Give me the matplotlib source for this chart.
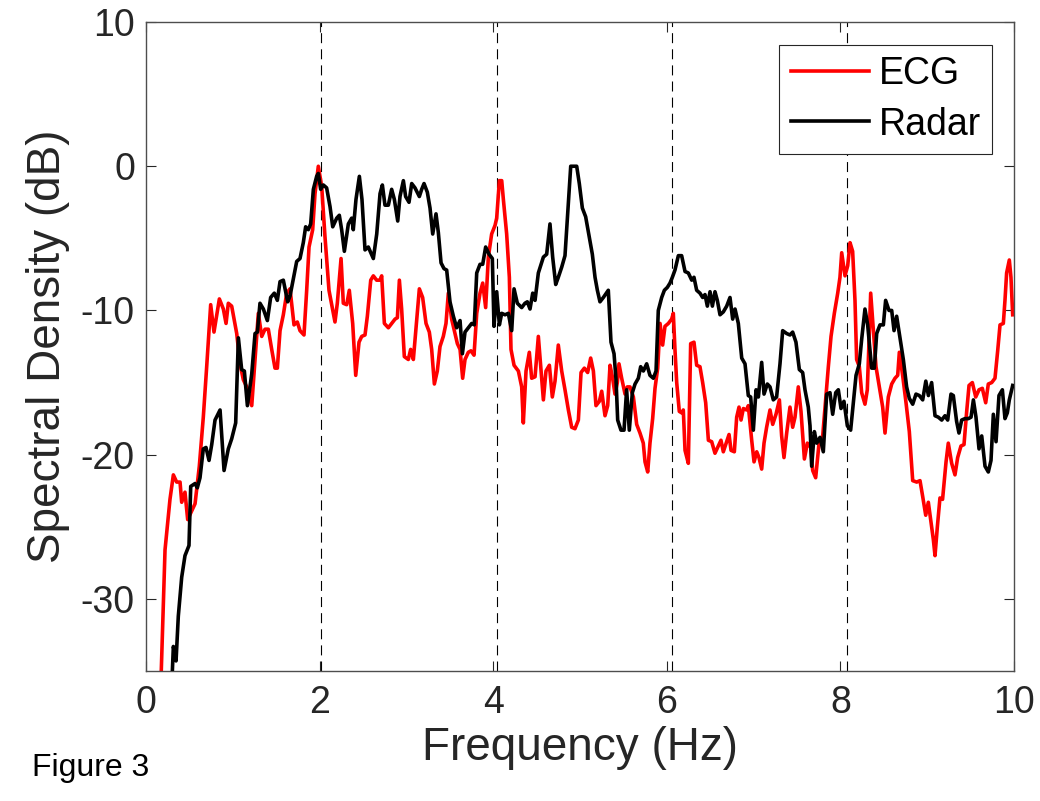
import matplotlib
matplotlib.use("Agg")
import matplotlib.pyplot as plt

# ---------------- data ----------------
ecg_freq = [0.15, 0.219, 0.276, 0.315, 0.353, 0.392, 0.411, 0.449, 0.480, 0.526, 0.565,
            0.614, 0.660, 0.699, 0.745, 0.783, 0.845, 0.891, 0.922, 0.948, 0.987,
            1.045, 1.083, 1.121, 1.160, 1.218, 1.256, 1.294, 1.333, 1.371, 1.409,
            1.448, 1.486, 1.513, 1.544, 1.582, 1.621, 1.659, 1.705, 1.743, 1.774,
            1.820, 1.851, 1.878, 1.920, 1.947, 1.985, 2.024, 2.062, 2.108, 2.177,
            2.204, 2.247, 2.273, 2.312, 2.342, 2.381, 2.416, 2.454, 2.485, 2.523,
            2.550, 2.589, 2.619, 2.657, 2.696, 2.715, 2.746, 2.792, 2.830, 2.869,
            2.896, 2.919, 2.945, 2.976, 3.022, 3.049, 3.080, 3.118, 3.149, 3.187,
            3.226, 3.264, 3.291, 3.322, 3.356, 3.387, 3.425, 3.456, 3.483, 3.521,
            3.560, 3.587, 3.618, 3.648, 3.675, 3.713, 3.744, 3.779, 3.810, 3.848,
            3.879, 3.913, 3.944, 3.982, 4.021, 4.040, 4.071, 4.098, 4.117, 4.155,
            4.186, 4.205, 4.240, 4.290, 4.328, 4.347, 4.378, 4.416, 4.443, 4.482,
            4.520, 4.578, 4.608, 4.647, 4.681, 4.712, 4.750, 4.789, 4.827, 4.866,
            4.904, 4.942, 4.981, 5.012, 5.050, 5.088, 5.123, 5.154, 5.184, 5.223,
            5.250, 5.288, 5.319, 5.346, 5.376, 5.403, 5.430, 5.449, 5.480, 5.519,
            5.545, 5.576, 5.615, 5.653, 5.691, 5.729, 5.749, 5.780, 5.806, 5.837,
            5.864, 5.895, 5.922, 5.952, 5.979, 6.018, 6.056, 6.075, 6.094, 6.114,
            6.144, 6.171, 6.190, 6.210, 6.248, 6.275, 6.313, 6.344, 6.382, 6.413,
            6.448, 6.479, 6.517, 6.555, 6.594, 6.624, 6.651, 6.690, 6.717, 6.740,
            6.778, 6.805, 6.832, 6.855, 6.882, 6.920, 6.939, 6.978, 7.005, 7.036,
            7.062, 7.093, 7.120, 7.150, 7.189, 7.220, 7.258, 7.297, 7.323, 7.350,
            7.381, 7.419, 7.450, 7.477, 7.515, 7.546, 7.585, 7.619, 7.658, 7.681,
            7.715, 7.754, 7.792, 7.823, 7.861, 7.892, 7.930, 7.969, 7.995, 8.015,
            8.053, 8.084, 8.111, 8.141, 8.168, 8.187, 8.218, 8.245, 8.283, 8.310,
            8.349, 8.380, 8.410, 8.449, 8.487, 8.514, 8.552, 8.591, 8.629, 8.660,
            8.679, 8.717, 8.756, 8.794, 8.833, 8.879, 8.917, 8.948, 8.983, 9.013,
            9.040, 9.071, 9.090, 9.117, 9.147, 9.177, 9.217, 9.243, 9.282, 9.320,
            9.351, 9.389, 9.424, 9.455, 9.482, 9.520, 9.559, 9.597, 9.635, 9.674,
            9.704, 9.743, 9.781, 9.812, 9.839, 9.877, 9.896, 9.915, 9.946, 9.965,
            9.985]
ecg_db = [-40.0, -26.6, -23.1, -21.4, -21.9, -21.9, -23.3, -22.6, -24.5, -23.9, -23.4,
          -20.8, -17.4, -13.9, -9.6, -11.5, -9.2, -9.9, -10.9, -9.5, -9.7,
          -11.6, -13.7, -14.8, -15.3, -16.6, -13.4, -10.2, -11.8, -11.3, -11.3,
          -12.7, -14.0, -14.0, -11.4, -10.3, -8.8, -8.5, -11.0, -10.8, -11.4,
          -11.7, -8.6, -5.6, -4.4, -1.9, 0.0, -1.4, -4.9, -8.6, -10.8,
          -9.5, -6.4, -9.5, -9.6, -8.6, -10.9, -14.5, -12.2, -11.8, -11.7,
          -10.4, -7.9, -7.6, -7.9, -7.9, -7.6, -10.9, -11.2, -10.9, -10.6,
          -10.5, -7.9, -9.9, -13.2, -13.4, -12.7, -13.4, -10.7, -8.5, -9.1,
          -10.9, -11.5, -12.7, -15.1, -14.2, -12.5, -11.8, -10.9, -8.8, -10.6,
          -11.6, -12.3, -12.7, -14.7, -13.4, -12.9, -12.8, -13.1, -10.2, -8.8,
          -8.1, -9.8, -6.3, -4.7, -4.1, -3.6, -1.0, -1.0, -2.3, -4.7,
          -7.7, -12.7, -13.8, -14.2, -15.3, -17.8, -14.2, -12.9, -14.7, -14.6,
          -11.8, -16.2, -14.2, -13.8, -16.0, -14.9, -12.4, -14.2, -15.5, -16.9,
          -18.1, -18.2, -17.6, -14.3, -14.0, -14.3, -13.3, -14.2, -16.6, -16.3,
          -15.6, -17.3, -16.6, -13.8, -14.7, -15.8, -15.0, -13.7, -14.7, -15.8,
          -15.3, -15.3, -16.0, -17.9, -18.5, -19.2, -20.5, -21.2, -19.2, -17.5,
          -15.4, -14.0, -10.9, -12.4, -11.1, -10.9, -10.6, -10.2, -12.7, -15.0,
          -17.0, -17.1, -16.9, -19.7, -20.6, -12.3, -12.2, -13.8, -13.9, -15.0,
          -16.4, -19.0, -19.1, -19.9, -19.4, -19.0, -19.8, -19.1, -18.6, -19.7,
          -19.8, -17.4, -16.7, -17.6, -16.8, -16.9, -16.6, -19.0, -20.5, -19.8,
          -20.2, -21.0, -19.2, -18.1, -16.9, -17.9, -17.2, -16.2, -18.7, -20.2,
          -18.5, -16.7, -18.1, -17.4, -15.3, -17.0, -20.3, -19.2, -19.5, -21.1,
          -21.6, -19.2, -19.0, -16.7, -13.9, -11.8, -10.2, -8.8, -7.7, -6.0,
          -7.6, -6.9, -5.3, -5.9, -9.3, -13.4, -13.9, -15.7, -16.5, -15.5,
          -8.8, -11.4, -13.9, -15.3, -16.7, -18.5, -16.0, -15.1, -14.7, -14.5,
          -12.9, -14.5, -16.4, -18.4, -21.8, -21.9, -21.8, -22.9, -24.2, -23.3,
          -24.5, -25.9, -27.0, -25.0, -23.0, -23.1, -20.5, -19.2, -20.6, -21.4,
          -20.2, -19.4, -19.3, -17.0, -15.2, -15.0, -16.0, -15.5, -15.4, -16.4,
          -15.1, -15.0, -14.7, -12.8, -11.0, -10.9, -9.3, -7.4, -6.5, -7.7,
          -10.3]

radar_freq = [0.29, 0.315, 0.346, 0.372, 0.411, 0.449, 0.495, 0.515, 0.565, 0.591,
              0.622, 0.660, 0.691, 0.726, 0.757, 0.795, 0.853, 0.899, 0.948, 0.987,
              1.033, 1.064, 1.102, 1.133, 1.168, 1.218, 1.256, 1.283, 1.313, 1.352,
              1.398, 1.436, 1.478, 1.513, 1.544, 1.582, 1.632, 1.659, 1.697, 1.736,
              1.774, 1.812, 1.839, 1.870, 1.897, 1.928, 1.966, 1.985, 2.012, 2.043,
              2.081, 2.120, 2.151, 2.197, 2.227, 2.254, 2.285, 2.331, 2.369, 2.388,
              2.419, 2.458, 2.488, 2.523, 2.561, 2.619, 2.658, 2.696, 2.723, 2.753,
              2.792, 2.830, 2.861, 2.900, 2.926, 2.965, 2.991, 3.030, 3.061, 3.099,
              3.149, 3.176, 3.203, 3.241, 3.272, 3.303, 3.341, 3.368, 3.399, 3.433,
              3.464, 3.502, 3.541, 3.579, 3.618, 3.645, 3.675, 3.713, 3.752, 3.782,
              3.810, 3.848, 3.879, 3.913, 3.952, 3.990, 4.009, 4.040, 4.071, 4.098,
              4.136, 4.174, 4.213, 4.240, 4.278, 4.328, 4.366, 4.393, 4.424, 4.455,
              4.482, 4.520, 4.578, 4.616, 4.654, 4.685, 4.720, 4.750, 4.789, 4.827,
              4.866, 4.893, 4.962, 4.992, 5.027, 5.065, 5.104, 5.142, 5.173, 5.200,
              5.230, 5.269, 5.326, 5.357, 5.392, 5.415, 5.434, 5.472, 5.507, 5.537,
              5.568, 5.603, 5.634, 5.672, 5.699, 5.730, 5.768, 5.806, 5.845, 5.876,
              5.902, 5.941, 5.972, 6.006, 6.037, 6.064, 6.094, 6.133, 6.171, 6.210,
              6.248, 6.287, 6.313, 6.344, 6.382, 6.413, 6.440, 6.467, 6.498, 6.525,
              6.555, 6.582, 6.613, 6.651, 6.690, 6.728, 6.759, 6.786, 6.824, 6.863,
              6.901, 6.939, 6.966, 6.997, 7.028, 7.055, 7.093, 7.120, 7.158, 7.189,
              7.227, 7.265, 7.304, 7.335, 7.381, 7.419, 7.450, 7.488, 7.527, 7.565,
              7.592, 7.630, 7.650, 7.669, 7.700, 7.727, 7.765, 7.803, 7.842, 7.880,
              7.911, 7.946, 7.976, 8.007, 8.041, 8.080, 8.118, 8.149, 8.180, 8.218,
              8.245, 8.283, 8.314, 8.341, 8.360, 8.391, 8.418, 8.456, 8.495, 8.521,
              8.560, 8.591, 8.618, 8.648, 8.687, 8.725, 8.763, 8.794, 8.833, 8.871,
              8.909, 8.948, 8.984, 9.014, 9.051, 9.090, 9.128, 9.167, 9.205, 9.236,
              9.274, 9.301, 9.339, 9.366, 9.397, 9.435, 9.474, 9.505, 9.532, 9.562,
              9.597, 9.628, 9.666, 9.704, 9.735, 9.762, 9.793, 9.827, 9.866, 9.896,
              9.923, 9.946, 9.985]
radar_db = [-37.0, -33.3, -34.3, -31.2, -28.5, -27.0, -26.3, -22.2, -22.0, -22.3,
            -21.6, -19.6, -19.5, -20.4, -19.3, -17.6, -16.9, -21.1, -19.6, -18.9,
            -17.8, -11.9, -14.1, -14.2, -16.6, -14.4, -11.6, -11.5, -9.5, -9.9,
            -10.7, -9.1, -8.8, -9.3, -8.0, -7.9, -9.4, -9.0, -7.8, -6.6,
            -6.4, -5.3, -4.2, -4.4, -4.0, -1.6, -0.7, -0.5, -1.6, -1.3,
            -1.5, -2.8, -4.2, -3.6, -3.4, -4.4, -5.9, -4.0, -3.6, -4.4,
            -2.3, -0.7, -2.3, -5.8, -5.6, -6.4, -4.7, -1.9, -1.3, -2.7,
            -2.7, -1.6, -2.3, -3.8, -2.1, -1.0, -2.1, -2.5, -1.2, -1.5,
            -2.1, -1.6, -1.2, -1.8, -2.9, -4.7, -3.3, -4.6, -6.7, -7.1,
            -7.2, -9.4, -10.4, -11.2, -10.7, -13.0, -11.5, -11.2, -10.9, -11.0,
            -7.4, -6.8, -6.8, -5.6, -6.1, -6.4, -11.1, -8.7, -11.0, -10.2,
            -10.3, -10.2, -11.4, -8.5, -9.5, -9.8, -9.5, -9.4, -9.9, -8.8,
            -9.3, -7.4, -6.3, -6.1, -4.0, -6.3, -8.2, -7.7, -7.0, -6.2,
            -2.6, 0.0, 0.0, -1.2, -2.9, -3.5, -4.8, -6.1, -7.7, -8.6,
            -9.4, -9.1, -8.6, -12.2, -13.0, -14.8, -17.6, -18.3, -18.3, -15.5,
            -18.3, -15.7, -15.1, -14.7, -13.9, -14.2, -13.7, -14.5, -14.7, -14.2,
            -10.0, -9.1, -8.6, -8.4, -8.1, -7.7, -7.2, -6.2, -6.2, -7.3,
            -7.4, -7.9, -7.7, -8.6, -8.8, -9.1, -8.9, -9.7, -8.7, -9.7,
            -8.7, -9.3, -10.3, -10.1, -9.7, -9.1, -10.6, -9.9, -10.9, -13.3,
            -13.7, -15.9, -16.0, -18.3, -15.5, -16.0, -13.6, -15.8, -15.1, -15.3,
            -16.2, -16.0, -13.7, -11.4, -11.6, -11.7, -11.5, -12.2, -14.1, -14.3,
            -15.5, -16.7, -18.0, -20.8, -18.4, -19.2, -18.8, -19.8, -15.8, -15.7,
            -17.2, -15.7, -15.5, -16.8, -16.3, -18.0, -18.3, -16.4, -14.5, -13.7,
            -12.0, -9.9, -11.0, -12.8, -14.0, -14.0, -11.6, -11.0, -11.0, -9.3,
            -10.0, -10.0, -11.4, -10.4, -11.9, -13.4, -15.3, -16.1, -16.5, -15.8,
            -15.9, -16.2, -14.9, -15.9, -15.0, -17.3, -17.4, -17.6, -17.3, -17.6,
            -15.8, -15.9, -17.7, -18.5, -17.6, -17.5, -17.5, -17.4, -16.2, -17.4,
            -19.6, -18.7, -20.8, -21.2, -20.4, -17.2, -19.1, -15.9, -15.5, -17.5,
            -17.1, -16.2, -15.2]

harmonics = [2.02, 4.04, 6.06, 8.08]
x_ticks = [0, 2, 4, 6, 8, 10]
y_ticks = [-30, -20, -10, 0, 10]
series_labels = ["ECG", "Radar"]

# ---------------- figure ----------------
plt.rcParams['font.family'] = ['Liberation Sans', 'DejaVu Sans']
plt.rcParams['axes.unicode_minus'] = False
text_col = '#262626'
fig = plt.figure(figsize=(10.4, 8.01), dpi=100)
ax = fig.add_axes([0.1404, 0.1623, 0.8346, 0.8102])

for h in harmonics:
    ax.axvline(h, color='black', lw=0.8, linestyle=(0, (9, 5.5)), zorder=1)

ax.plot(ecg_freq, ecg_db, color='#ff0000', lw=2.6, label=series_labels[0], zorder=2)
ax.plot(radar_freq, radar_db, color='black', lw=2.6, label=series_labels[1], zorder=3)

ax.set_xlim(0, 10)
ax.set_ylim(-35, 10)
ax.set_xticks(x_ticks)
ax.set_yticks(y_ticks)
ax.tick_params(direction='in', length=7, width=0.8, colors=text_col,
               labelsize=27, top=True, right=True, pad=8)
ax.tick_params(axis='x', pad=10)
for s in ax.spines.values():
    s.set_color('#4d4d4d')
    s.set_linewidth(1.0)

ax.set_xlabel('Frequency (Hz)', fontsize=33, color=text_col, labelpad=4)
ax.set_ylabel('Spectral Density (dB)', fontsize=33, color=text_col, labelpad=8)

leg = ax.legend(loc='upper right', bbox_to_anchor=(0.9747, 0.9646),
                borderaxespad=0, fontsize=27, fancybox=False, framealpha=1,
                handlelength=2.1, handletextpad=0.25, borderpad=0.3,
                labelspacing=0.38)
leg.get_frame().set_edgecolor(text_col)
leg.get_frame().set_linewidth(0.8)

fig.text(0.031, 0.031, 'Figure 3', fontsize=23, color='black', ha='left', va='baseline')

fig.savefig('out.png', dpi=100)
